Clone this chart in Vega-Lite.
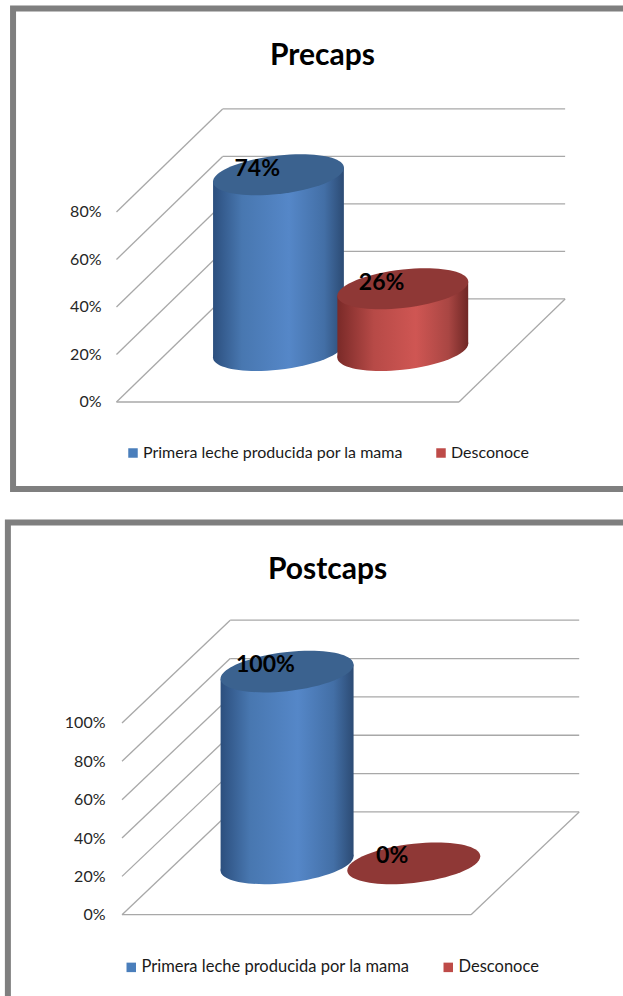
{
  "$schema": "https://vega.github.io/schema/vega-lite/v6.json",
  "padding": 0,
  "spacing": 0,
  "background": "white",
  "datasets": {
    "precaps": [
      {"serie": "Primera leche producida por la mama", "value": 74, "pos": 47.3},
      {"serie": "Desconoce", "value": 26, "pos": 83.6}
    ],
    "postcaps": [
      {"serie": "Primera leche producida por la mama", "value": 100, "pos": 47.3},
      {"serie": "Desconoce", "value": 0, "pos": 83.6}
    ],
    "ticks80": [{"t": 0}, {"t": 20}, {"t": 40}, {"t": 60}, {"t": 80}],
    "ticks100": [{"t": 0}, {"t": 20}, {"t": 40}, {"t": 60}, {"t": 80}, {"t": 100}]
  },
  "config": {
    "view": {"stroke": null},
    "font": "Lato",
    "style": {
      "cap": {"filled": true, "opacity": 1, "shape": "M1 -0.107 C1 0.0554 0.5523 0.2349 0 0.294 C-0.5523 0.3531 -1 0.2694 -1 0.107 C-1 -0.0554 -0.5523 -0.2349 0 -0.294 C0.5523 -0.3531 1 -0.2694 1 -0.107 Z"},
      "valueLabel": {"fontWeight": "bold", "fontSize": 23, "baseline": "middle", "align": "center"}
    },
    "legend": {
      "title": null, "orient": "none", "direction": "horizontal", "symbolType": "square", "symbolSize": 90,
      "labelFont": "Lato", "labelColor": "#1a1a1a", "labelOffset": 2, "columnPadding": 30, "symbolOpacity": 1, "labelLimit": 400
    }
  },
  "resolve": {"scale": {"color": "independent"}, "legend": {"color": "independent"}},
  "vconcat": [
    {
      "width": 623,
      "height": 505,
      "title": {"text": "Precaps", "font": "Lato", "fontSize": 30, "fontWeight": "bold", "color": "black", "anchor": "middle", "frame": "group", "dx": 11, "offset": -71},
      "data": {"name": "precaps"},
      "transform": [
        {"calculate": "21.7", "as": "lift"},
        {"calculate": "datum.lift + datum.value", "as": "top"},
        {"calculate": "datum.value + '%'", "as": "label"}
      ],
      "encoding": {
        "x": {"type": "quantitative", "scale": {"domain": [-34.01, 147.9], "nice": false, "zero": false}, "axis": null},
        "y": {"type": "quantitative", "scale": {"domain": [-43.37, 169.26], "nice": false, "zero": false},
          "axis": {"values": [0, 20, 40, 60, 80], "labelExpr": "datum.value + '%'", "offset": -101, "labelPadding": 0, "ticks": false, "domain": false, "grid": false, "title": null, "labelFont": "Lato", "labelFontSize": 16, "labelColor": "#262626"}}
      },
      "layer": [
        {
          "data": {"values": [{"left": -30.2, "right": 170, "up": 165.7, "down": -36.6}]},
          "transform": [],
          "mark": {"type": "rect", "fill": "transparent", "stroke": "#7f7f7f", "strokeWidth": 6, "clip": true},
          "encoding": {"x": {"field": "left"}, "x2": {"field": "right"}, "y": {"field": "up"}, "y2": {"field": "down"}}
        },
        {
          "data": {"name": "ticks80"},
          "transform": [{"calculate": "datum.t + 43.4", "as": "back"}],
          "mark": {"type": "rule", "stroke": "#a8a8a8", "strokeWidth": 1.3},
          "encoding": {"x": {"datum": 0}, "x2": {"datum": 31}, "y": {"field": "t"}, "y2": {"field": "back"}}
        },
        {
          "data": {"name": "ticks80"},
          "transform": [{"calculate": "datum.t + 43.4", "as": "back"}],
          "mark": {"type": "rule", "stroke": "#a8a8a8", "strokeWidth": 1.3},
          "encoding": {"x": {"datum": 31}, "x2": {"datum": 131}, "y": {"field": "back"}}
        },
        {"data": {"values": [{"t": 0}]}, "transform": [], "mark": {"type": "rule", "stroke": "#a8a8a8", "strokeWidth": 1.3},
          "encoding": {"x": {"datum": 0}, "x2": {"datum": 100}, "y": {"field": "t"}}},
        {"data": {"values": [{"t": 0, "b": 43.4}]}, "transform": [], "mark": {"type": "rule", "stroke": "#a8a8a8", "strokeWidth": 1.3},
          "encoding": {"x": {"datum": 100}, "x2": {"datum": 131}, "y": {"field": "t"}, "y2": {"field": "b"}}},
        {
          "transform": [
            {"filter": "datum.serie !== 'Desconoce'"},
            {"fold": ["value", "pos"], "as": ["corner", "cornerValue"]},
            {"calculate": "datum.corner === 'value' ? -1 : 1", "as": "s"},
            {"calculate": "datum.pos + datum.s * 19.1", "as": "sx"},
            {"calculate": "datum.top + datum.s * 2.95", "as": "sTop"},
            {"calculate": "datum.lift + datum.s * 2.95", "as": "sBase"}
          ],
          "mark": {"type": "area", "orient": "vertical", "fill": {"x1": 0, "y1": 0, "x2": 1, "y2": 0, "gradient": "linear", "stops": [
            {"offset": 0, "color": "#2c4f7e"}, {"offset": 0.22, "color": "#4877b0"}, {"offset": 0.58, "color": "#5587c8"},
            {"offset": 0.85, "color": "#436fa6"}, {"offset": 1, "color": "#2c4b74"}]}},
          "encoding": {"x": {"field": "sx"}, "y": {"field": "sTop"}, "y2": {"field": "sBase"}}
        },
        {
          "transform": [{"filter": "datum.serie !== 'Desconoce'"}],
          "mark": {"type": "point", "style": "cap", "size": 17161, "fill": {"x1": 0, "y1": 0, "x2": 1, "y2": 0, "gradient": "linear", "stops": [
            {"offset": 0, "color": "#2c4f7e"}, {"offset": 0.22, "color": "#4877b0"}, {"offset": 0.58, "color": "#5587c8"},
            {"offset": 0.85, "color": "#436fa6"}, {"offset": 1, "color": "#2c4b74"}]}},
          "encoding": {"x": {"field": "pos"}, "y": {"field": "lift"}}
        },
        {
          "transform": [
            {"filter": "datum.serie === 'Desconoce'"},
            {"fold": ["value", "pos"], "as": ["corner", "cornerValue"]},
            {"calculate": "datum.corner === 'value' ? -1 : 1", "as": "s"},
            {"calculate": "datum.pos + datum.s * 19.1", "as": "sx"},
            {"calculate": "datum.top + datum.s * 2.95", "as": "sTop"},
            {"calculate": "datum.lift + datum.s * 2.95", "as": "sBase"}
          ],
          "mark": {"type": "area", "orient": "vertical", "fill": {"x1": 0, "y1": 0, "x2": 1, "y2": 0, "gradient": "linear", "stops": [
            {"offset": 0, "color": "#7a2a28"}, {"offset": 0.28, "color": "#b74a47"}, {"offset": 0.6, "color": "#cf5653"},
            {"offset": 0.85, "color": "#a94643"}, {"offset": 1, "color": "#6f2725"}]}},
          "encoding": {"x": {"field": "sx"}, "y": {"field": "sTop"}, "y2": {"field": "sBase"}}
        },
        {
          "transform": [{"filter": "datum.serie === 'Desconoce'"}],
          "mark": {"type": "point", "style": "cap", "size": 17161, "fill": {"x1": 0, "y1": 0, "x2": 1, "y2": 0, "gradient": "linear", "stops": [
            {"offset": 0, "color": "#7a2a28"}, {"offset": 0.28, "color": "#b74a47"}, {"offset": 0.6, "color": "#cf5653"},
            {"offset": 0.85, "color": "#a94643"}, {"offset": 1, "color": "#6f2725"}]}},
          "encoding": {"x": {"field": "pos"}, "y": {"field": "lift"}}
        },
        {
          "mark": {"type": "point", "style": "cap", "size": 17161},
          "encoding": {
            "x": {"field": "pos"}, "y": {"field": "top"},
            "fill": {"condition": {"test": "datum.serie === 'Desconoce'", "value": "#8f3836"}, "value": "#3b628f"}
          }
        },
        {
          "transform": [
            {"calculate": "datum.pos - 6.2", "as": "tx"},
            {"calculate": "datum.top + 2.6", "as": "ty"}
          ],
          "mark": {"type": "text", "style": "valueLabel", "fill": "black"},
          "encoding": {"x": {"field": "tx"}, "y": {"field": "ty"}, "text": {"field": "label"}}
        },
        {
          "mark": {"type": "point", "filled": true, "opacity": 0},
          "encoding": {
            "x": {"field": "pos"}, "y": {"field": "lift"},
            "color": {"field": "serie", "type": "nominal",
              "scale": {"domain": ["Primera leche producida por la mama", "Desconoce"], "range": ["#4a7ebb", "#be4b48"]},
              "legend": {"legendX": 125, "legendY": 445, "labelFontSize": 16}}
          }
        }
      ]
    },
    {
      "width": 623,
      "height": 491,
      "title": {"text": "Postcaps", "font": "Lato", "fontSize": 30, "fontWeight": "bold", "color": "black", "anchor": "middle", "frame": "group", "dx": 16, "offset": -80},
      "data": {"name": "postcaps"},
      "transform": [
        {"calculate": "26.8", "as": "lift"},
        {"calculate": "datum.lift + datum.value", "as": "top"},
        {"calculate": "datum.value + '%'", "as": "label"}
      ],
      "encoding": {
        "x": {"type": "quantitative", "scale": {"domain": [-34.96, 143.55], "nice": false, "zero": false}, "axis": null},
        "y": {"type": "quantitative", "scale": {"domain": [-42.4, 213.7], "nice": false, "zero": false},
          "axis": {"values": [0, 20, 40, 60, 80, 100], "labelExpr": "datum.value + '%'", "offset": -105, "labelPadding": 0, "ticks": false, "domain": false, "grid": false, "title": null, "labelFont": "Lato", "labelFontSize": 16, "labelColor": "#262626"}}
      },
      "layer": [
        {
          "data": {"values": [{"left": -32.7, "right": 170, "up": 204.6, "down": -60}]},
          "transform": [],
          "mark": {"type": "rect", "fill": "transparent", "stroke": "#7f7f7f", "strokeWidth": 6, "clip": true},
          "encoding": {"x": {"field": "left"}, "x2": {"field": "right"}, "y": {"field": "up"}, "y2": {"field": "down"}}
        },
        {
          "data": {"name": "ticks100"},
          "transform": [{"calculate": "datum.t + 53.6", "as": "back"}],
          "mark": {"type": "rule", "stroke": "#a8a8a8", "strokeWidth": 1.3},
          "encoding": {"x": {"datum": 0}, "x2": {"datum": 31}, "y": {"field": "t"}, "y2": {"field": "back"}}
        },
        {
          "data": {"name": "ticks100"},
          "transform": [{"calculate": "datum.t + 53.6", "as": "back"}],
          "mark": {"type": "rule", "stroke": "#a8a8a8", "strokeWidth": 1.3},
          "encoding": {"x": {"datum": 31}, "x2": {"datum": 131}, "y": {"field": "back"}}
        },
        {"data": {"values": [{"t": 0}]}, "transform": [], "mark": {"type": "rule", "stroke": "#a8a8a8", "strokeWidth": 1.3},
          "encoding": {"x": {"datum": 0}, "x2": {"datum": 100}, "y": {"field": "t"}}},
        {"data": {"values": [{"t": 0, "b": 53.6}]}, "transform": [], "mark": {"type": "rule", "stroke": "#a8a8a8", "strokeWidth": 1.3},
          "encoding": {"x": {"datum": 100}, "x2": {"datum": 131}, "y": {"field": "t"}, "y2": {"field": "b"}}},
        {
          "transform": [
            {"filter": "datum.serie !== 'Desconoce'"},
            {"fold": ["value", "pos"], "as": ["corner", "cornerValue"]},
            {"calculate": "datum.corner === 'value' ? -1 : 1", "as": "s"},
            {"calculate": "datum.pos + datum.s * 19.05", "as": "sx"},
            {"calculate": "datum.top + datum.s * 3.75", "as": "sTop"},
            {"calculate": "datum.lift + datum.s * 3.75", "as": "sBase"}
          ],
          "mark": {"type": "area", "orient": "vertical", "fill": {"x1": 0, "y1": 0, "x2": 1, "y2": 0, "gradient": "linear", "stops": [
            {"offset": 0, "color": "#2c4f7e"}, {"offset": 0.22, "color": "#4877b0"}, {"offset": 0.58, "color": "#5587c8"},
            {"offset": 0.85, "color": "#436fa6"}, {"offset": 1, "color": "#2c4b74"}]}},
          "encoding": {"x": {"field": "sx"}, "y": {"field": "sTop"}, "y2": {"field": "sBase"}}
        },
        {
          "transform": [{"filter": "datum.serie !== 'Desconoce'"}],
          "mark": {"type": "point", "style": "cap", "size": 17689, "fill": {"x1": 0, "y1": 0, "x2": 1, "y2": 0, "gradient": "linear", "stops": [
            {"offset": 0, "color": "#2c4f7e"}, {"offset": 0.22, "color": "#4877b0"}, {"offset": 0.58, "color": "#5587c8"},
            {"offset": 0.85, "color": "#436fa6"}, {"offset": 1, "color": "#2c4b74"}]}},
          "encoding": {"x": {"field": "pos"}, "y": {"field": "lift"}}
        },
        {
          "mark": {"type": "point", "style": "cap", "size": 17689},
          "encoding": {
            "x": {"field": "pos"}, "y": {"field": "top"},
            "fill": {"condition": {"test": "datum.serie === 'Desconoce'", "value": "#8f3836"}, "value": "#3b628f"}
          }
        },
        {
          "transform": [
            {"calculate": "datum.pos - 6.2", "as": "tx"},
            {"calculate": "datum.top + 3.6", "as": "ty"}
          ],
          "mark": {"type": "text", "style": "valueLabel", "fill": "black"},
          "encoding": {"x": {"field": "tx"}, "y": {"field": "ty"}, "text": {"field": "label"}}
        },
        {
          "mark": {"type": "point", "filled": true, "opacity": 0},
          "encoding": {
            "x": {"field": "pos"}, "y": {"field": "lift"},
            "color": {"field": "serie", "type": "nominal",
              "scale": {"domain": ["Primera leche producida por la mama", "Desconoce"], "range": ["#4a7ebb", "#be4b48"]},
              "legend": {"legendX": 123, "legendY": 454, "labelFontSize": 16.5}}
          }
        }
      ]
    }
  ]
}
